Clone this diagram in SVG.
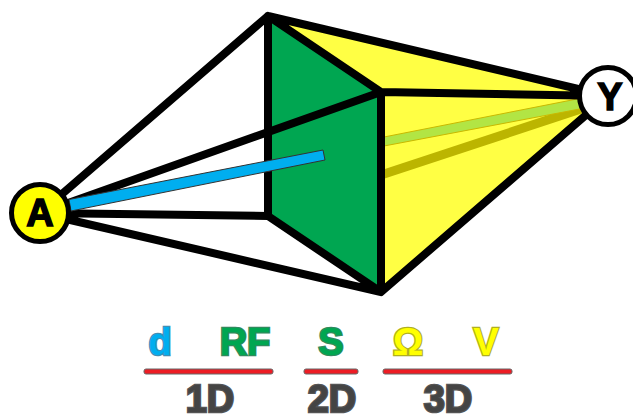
<svg xmlns="http://www.w3.org/2000/svg" width="633" height="414" viewBox="0 0 633 414">
<style>
.e{fill:none;stroke:#000;stroke-width:8;stroke-linejoin:round;stroke-linecap:round}
.t{font-family:"Liberation Sans",Arial,sans-serif;font-weight:bold;font-size:38px;text-anchor:middle;stroke-width:2.500;paint-order:stroke}
.r{fill:#ed1c24;stroke:#666;stroke-width:1}
.n{stroke:#000;stroke-width:5}
.l{font-family:"Liberation Sans",Arial,sans-serif;font-weight:bold;font-size:38px;text-anchor:middle;fill:#000;stroke:#000;stroke-width:1.500}
</style>
<rect width="633" height="414" fill="#fff"/>
<g id="faces">
<polygon points="268,16 381,92 608,96" fill="#ffff44"/>
<polygon points="381,92 608,96 381,292" fill="#ffff44"/>
<polygon points="268,16 381,92 381,292 268,216" fill="#00a651"/>
</g>
<g id="connectors">
<line x1="381" y1="175" x2="590" y2="106" stroke="#bcb500" stroke-width="9"/>
<polygon points="384,137 582,98 585,108 384,146" fill="#b2e544" stroke="#c9b800" stroke-width="1"/>
<path class="e" d="M40 213 268 16 608 96 381 292 40 213M268 16V216L381 292V92L268 16M40 213 268 216M40 213 381 92 608 96"/>
<polygon points="69,199.500 323,150 325,160 71,211" fill="#00aeef" stroke="#333" stroke-width="1"/>
</g>
<g id="node-A">
<circle class="n" cx="40" cy="213" r="28.500" fill="#ffff00"/>
<text class="l" x="40" y="226">A</text>
</g>
<g id="node-Y">
<circle class="n" cx="608" cy="96" r="28.500" fill="#fff"/>
<text class="l" x="610" y="110">Y</text>
</g>
<g id="legend">
<text class="t" x="160" y="355" fill="#00aeef" stroke="#3f8fb5">d</text>
<text class="t" x="245" y="355" fill="#00a651" stroke="#2f8a5c">RF</text>
<text class="t" x="331" y="355" fill="#00a651" stroke="#2f8a5c">S</text>
<text class="t" x="408" y="355" fill="#ffff00" stroke="#b0b020">Ω</text>
<text class="t" x="486" y="355" fill="#ffff00" stroke="#b0b020">V</text>
<rect class="r" x="144" y="369" width="129" height="5" rx="2"/>
<rect class="r" x="304" y="369" width="54" height="5" rx="2"/>
<rect class="r" x="383" y="369" width="129" height="5" rx="2"/>
<text class="t" x="210" y="412" fill="#444" stroke="#555">1D</text>
<text class="t" x="332" y="412" fill="#444" stroke="#555">2D</text>
<text class="t" x="448" y="412" fill="#444" stroke="#555">3D</text>
</g>
</svg>
